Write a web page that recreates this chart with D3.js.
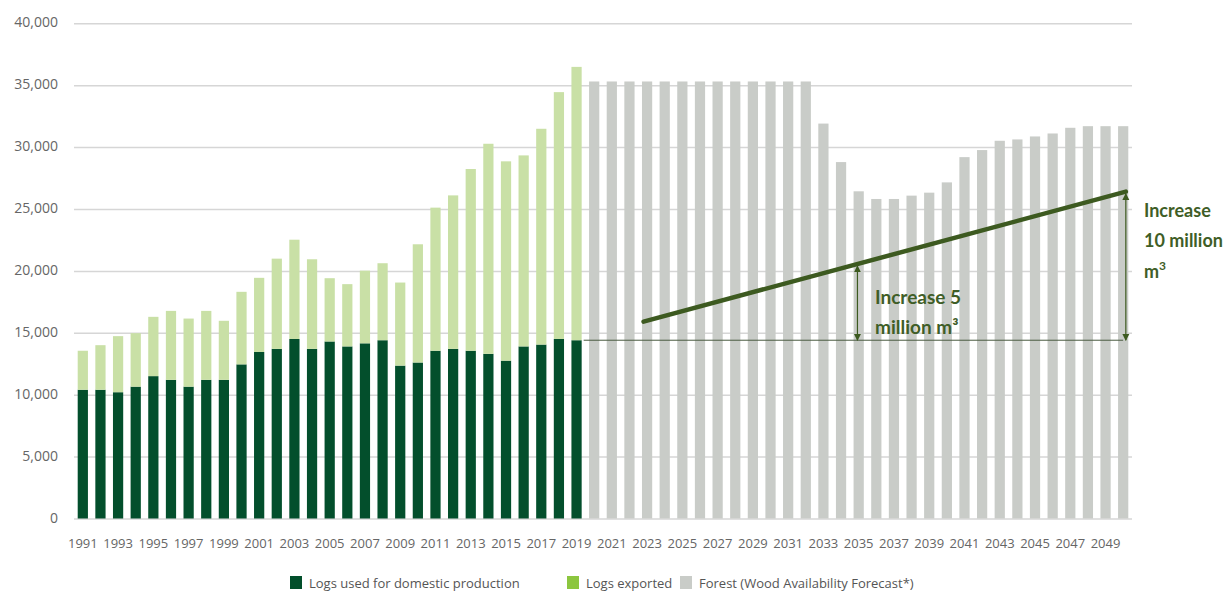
<!DOCTYPE html>
<html lang="en">
<head>
  <meta charset="UTF-8" />
  <script src="https://d3js.org/d3.v7.min.js"></script>
  <style>
    body { margin: 0; background: #fff; overflow: hidden; }
    svg { display: block; }
    .tick text { font-family: "Open Sans", sans-serif; fill: #666; }
    .note { font-family: Lato, sans-serif; font-weight: 700; fill: #3f5e27; font-size: 19px; }
  </style>
</head>
<body>
  <svg width="1227" height="591"></svg>
  <script>
    const width = 1227, height = 591;
    const svg = d3.select("svg");

    // history 1991-2019 (thousand m3)
    const histYears = d3.range(1991, 2020);
    const domestic = [10400, 10400, 10200, 10650, 11500, 11200, 10650, 11200, 11200, 12450,
      13450, 13700, 14500, 13700, 14300, 13900, 14150, 14400, 12350, 12600,
      13550, 13700, 13550, 13300, 12750, 13900, 14050, 14500, 14400];
    const exported = [3150, 3600, 4530, 4320, 4790, 5570, 5500, 5570, 4770, 5860,
      5990, 7290, 8020, 7240, 5110, 5030, 5870, 6220, 6710, 9550,
      11560, 12400, 14680, 16970, 16100, 15430, 17430, 19940, 22080];

    // forecast 2020-2050
    const forecastYears = d3.range(2020, 2051);
    const forecast = [35300, 35300, 35300, 35300, 35300, 35300, 35300, 35300, 35300, 35300,
      35300, 35300, 35300, 31900, 28790, 26430, 25810, 25810, 26080, 26320,
      27150, 29190, 29760, 30510, 30620, 30860, 31100, 31560, 31690, 31690, 31690];

    const allYears = histYears.concat(forecastYears);
    const yTicks = [0, 5000, 10000, 15000, 20000, 25000, 30000, 35000, 40000];
    const xTickYears = allYears.filter(y => y % 2 === 1);

    const legendItems = [
      { label: "Logs used for domestic production", color: "#024f2b" },
      { label: "Logs exported", color: "#8cc63f" },
      { label: "Forest (Wood Availability Forecast*)", color: "#c9ccc8" }
    ];

    // annotation anchors (year, value)
    const trend = [[2022.8, 15900], [2050.15, 26400]];
    const baseLevel = 14400;
    const arrowYears = [2034.93, 2050.15];

    const x = d3.scaleBand().domain(allYears).range([74, 1132])
      .paddingInner(0.42).paddingOuter(0.21);
    const y = d3.scaleLinear().domain([0, 40000]).range([518.5, 23.3]);
    const xc = d3.scaleLinear().domain([1991, 2050])
      .range([x(1991) + x.bandwidth() / 2, x(2050) + x.bandwidth() / 2]);

    // gridlines + y labels
    const yAxis = svg.append("g")
      .attr("transform", "translate(74,0)")
      .call(d3.axisLeft(y).tickValues(yTicks).tickSize(-1058).tickPadding(16)
        .tickFormat(d3.format(",")));
    yAxis.select(".domain").remove();
    yAxis.selectAll(".tick line").attr("stroke", "#d6d6d6").attr("stroke-width", 1.5);
    yAxis.selectAll(".tick text").attr("font-size", 14).attr("dy", "0.25em");

    // x labels
    const xAxis = svg.append("g")
      .attr("transform", "translate(0,531)")
      .call(d3.axisBottom(x).tickValues(xTickYears).tickSize(0).tickPadding(8));
    xAxis.select(".domain").remove();
    xAxis.selectAll(".tick text").attr("font-size", 13).attr("fill", "#5e5e5e");

    // bars
    svg.append("g").selectAll("rect")
      .data(histYears)
      .join("rect")
      .attr("x", d => x(d))
      .attr("width", x.bandwidth())
      .attr("y", (d, i) => y(domestic[i]))
      .attr("height", (d, i) => y(0) - y(domestic[i]))
      .attr("fill", "#034f2c");

    svg.append("g").selectAll("rect")
      .data(histYears)
      .join("rect")
      .attr("x", d => x(d))
      .attr("width", x.bandwidth())
      .attr("y", (d, i) => y(domestic[i] + exported[i]))
      .attr("height", (d, i) => y(domestic[i]) - y(domestic[i] + exported[i]))
      .attr("fill", "#c9e0a6");

    svg.append("g").selectAll("rect")
      .data(forecastYears)
      .join("rect")
      .attr("x", d => x(d))
      .attr("width", x.bandwidth())
      .attr("y", (d, i) => y(forecast[i]))
      .attr("height", (d, i) => y(0) - y(forecast[i]))
      .attr("fill", "#c9ccc8");

    // annotations
    const defs = svg.append("defs");
    defs.append("marker")
      .attr("id", "head")
      .attr("viewBox", "0 0 10 10")
      .attr("refX", 9).attr("refY", 5)
      .attr("markerWidth", 7).attr("markerHeight", 8)
      .attr("markerUnits", "userSpaceOnUse")
      .attr("orient", "auto-start-reverse")
      .append("path")
      .attr("d", "M0,0L10,5L0,10Z")
      .attr("fill", "#3d5a20");

    const ann = svg.append("g");
    ann.append("line")
      .attr("x1", x(2019) + x.bandwidth() + 2).attr("x2", xc(2050))
      .attr("y1", y(baseLevel)).attr("y2", y(baseLevel))
      .attr("stroke", "#4a5a40").attr("stroke-width", 1);

    ann.append("line")
      .attr("x1", xc(trend[0][0])).attr("y1", y(trend[0][1]))
      .attr("x2", xc(trend[1][0])).attr("y2", y(trend[1][1]))
      .attr("stroke", "#3d5a20").attr("stroke-width", 4.5)
      .attr("stroke-linecap", "round");

    const trendAt = yr => {
      const t = (yr - trend[0][0]) / (trend[1][0] - trend[0][0]);
      return trend[0][1] + t * (trend[1][1] - trend[0][1]);
    };

    arrowYears.forEach(yr => {
      ann.append("line")
        .attr("x1", xc(yr)).attr("x2", xc(yr))
        .attr("y1", y(baseLevel)).attr("y2", y(trendAt(yr)) + 2)
        .attr("stroke", "#3d5a20").attr("stroke-width", 1.2)
        .attr("marker-start", "url(#head)")
        .attr("marker-end", "url(#head)");
    });

    const n1 = ann.append("text").attr("class", "note").attr("x", 875).attr("y", 304);
    n1.append("tspan").text("Increase 5");
    n1.append("tspan").attr("x", 875).attr("y", 334).text("million m³");

    const n2 = ann.append("text").attr("class", "note").attr("x", 1144).attr("y", 217)
      .style("font-size", "18px");
    n2.append("tspan").text("Increase");
    n2.append("tspan").attr("x", 1144).attr("y", 247).text("10 million");
    n2.append("tspan").attr("x", 1144).attr("y", 278).text("m");
    n2.append("tspan").attr("font-size", 12).attr("dy", -8).text("3");

    // legend
    const legendX = [290, 567, 680];
    const lg = svg.append("g").selectAll("g")
      .data(legendItems)
      .join("g")
      .attr("transform", (d, i) => `translate(${legendX[i]},576)`);
    lg.append("rect").attr("width", 12).attr("height", 13).attr("fill", d => d.color);
    lg.append("text")
      .attr("x", 19).attr("y", 11.5)
      .attr("font-family", "Open Sans, sans-serif")
      .attr("font-size", 13)
      .attr("fill", "#555")
      .text(d => d.label);
  </script>
</body>
</html>
